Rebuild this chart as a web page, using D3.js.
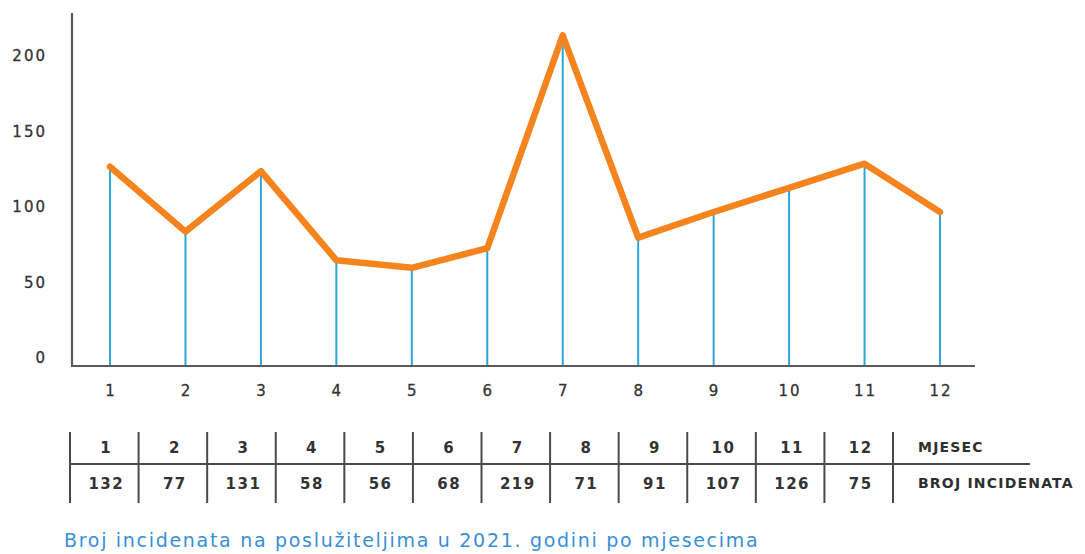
<!DOCTYPE html>
<html>
<head>
<meta charset="utf-8">
<script src="https://cdn.jsdelivr.net/npm/d3@7"></script>
<style>
  html, body { margin: 0; padding: 0; background: #fff; }
  svg { display: block; }
  text { font-family: "DejaVu Sans", sans-serif; }
</style>
</head>
<body>
<svg id="chart" width="1085" height="554"></svg>
<script>
// ---- data ----
const months = [1, 2, 3, 4, 5, 6, 7, 8, 9, 10, 11, 12];
// values as drawn by the line in the picture
const lineValues = [132, 89, 129, 70, 65, 78, 219, 85, 102, 118, 134, 102];
// values printed in the table
const tableValues = [132, 77, 131, 58, 56, 68, 219, 71, 91, 107, 126, 75];
const yTicks = [0, 50, 100, 150, 200];
const rowLabels = ["MJESEC", "BROJ INCIDENATA"];
const caption = "Broj incidenata na poslužiteljima u 2021. godini po mjesecima";

// ---- layout ----
const svg = d3.select("#chart");
const axisLeft = 72, axisRight = 975, axisTop = 13, baseY = 366;

const x = d3.scalePoint().domain(months).range([110, 940]);
const y = d3.scaleLinear().domain([0, 200]).range([baseY, baseY - 302]);

const axisColor = "#5a5a5a";
const textColor = "#333333";

// axes lines
svg.append("line")
  .attr("x1", axisLeft).attr("x2", axisLeft)
  .attr("y1", axisTop).attr("y2", baseY + 1)
  .attr("stroke", axisColor).attr("stroke-width", 2.2);
svg.append("line")
  .attr("x1", axisLeft - 1).attr("x2", axisRight)
  .attr("y1", baseY).attr("y2", baseY)
  .attr("stroke", axisColor).attr("stroke-width", 2);

// y tick labels
svg.append("g").selectAll("text")
  .data(yTicks).join("text")
  .attr("x", 47)
  .attr("y", d => y(d) - 8)
  .attr("dy", "0.36em")
  .attr("text-anchor", "end")
  .attr("font-size", 15)
  .attr("letter-spacing", 2)
  .attr("fill", textColor)
  .attr("stroke", textColor).attr("stroke-width", 0.3)
  .text(d => d);

// x tick labels
svg.append("g").selectAll("text")
  .data(months).join("text")
  .attr("x", d => x(d) + 1)
  .attr("y", 391)
  .attr("dy", "0.36em")
  .attr("text-anchor", "middle")
  .attr("font-size", 15)
  .attr("letter-spacing", 2)
  .attr("fill", textColor)
  .attr("stroke", textColor).attr("stroke-width", 0.3)
  .text(d => d);

// stems
svg.append("g").selectAll("line")
  .data(months).join("line")
  .attr("x1", d => x(d)).attr("x2", d => x(d))
  .attr("y1", (d, i) => y(lineValues[i]))
  .attr("y2", baseY - 1)
  .attr("stroke", "#2aa6db")
  .attr("stroke-width", 2);

// orange line
const line = d3.line()
  .x((d, i) => x(months[i]))
  .y(d => y(d));
svg.append("path")
  .datum(lineValues)
  .attr("d", line)
  .attr("fill", "none")
  .attr("stroke", "#f5841f")
  .attr("stroke-width", 6.5)
  .attr("stroke-linejoin", "round")
  .attr("stroke-linecap", "round");

// ---- table ----
const tLeft = 70, tRight = 893, tTop = 432, tBottom = 503, tMid = 464;
const col = d3.scaleBand().domain(months).range([tLeft, tRight]);
const tableColor = "#4a4a4a";

// vertical lines
const bounds = months.map(m => col(m)).concat([tRight]);
svg.append("g").selectAll("line")
  .data(bounds).join("line")
  .attr("x1", d => d).attr("x2", d => d)
  .attr("y1", tTop).attr("y2", tBottom)
  .attr("stroke", tableColor).attr("stroke-width", 2);
// horizontal line
svg.append("line")
  .attr("x1", tLeft).attr("x2", 1030)
  .attr("y1", tMid).attr("y2", tMid)
  .attr("stroke", tableColor).attr("stroke-width", 2);

// row 1 texts
svg.append("g").selectAll("text")
  .data(months).join("text")
  .attr("x", d => col(d) + col.bandwidth() / 2 + 2)
  .attr("y", 448)
  .attr("dy", "0.36em")
  .attr("text-anchor", "middle")
  .attr("font-size", 15)
  .attr("font-weight", "bold")
  .attr("letter-spacing", 1.5)
  .attr("fill", textColor)
  .text(d => d);
// row 2 texts
svg.append("g").selectAll("text")
  .data(tableValues).join("text")
  .attr("x", (d, i) => col(months[i]) + col.bandwidth() / 2 + 2)
  .attr("y", 484)
  .attr("dy", "0.36em")
  .attr("text-anchor", "middle")
  .attr("font-size", 15)
  .attr("font-weight", "bold")
  .attr("letter-spacing", 1.5)
  .attr("fill", textColor)
  .text(d => d);

// row labels
svg.append("g").selectAll("text")
  .data(rowLabels).join("text")
  .attr("x", 918)
  .attr("y", (d, i) => i === 0 ? 447 : 483)
  .attr("dy", "0.36em")
  .attr("font-size", 14)
  .attr("font-weight", "bold")
  .attr("letter-spacing", 1.2)
  .attr("fill", "#2f2f2f")
  .text(d => d);

// caption
svg.append("text")
  .attr("x", 64)
  .attr("y", 547)
  .attr("font-size", 19)
  .attr("letter-spacing", 1.7)
  .attr("fill", "#3a8fd6")
  .text(caption);
</script>
</body>
</html>
